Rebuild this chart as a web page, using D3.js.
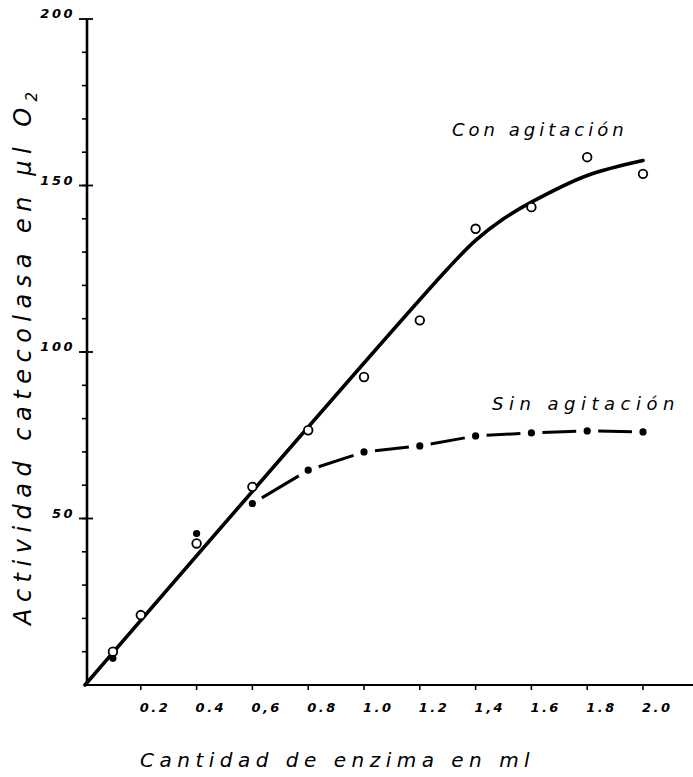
<!DOCTYPE html>
<meta charset="utf-8">
<style>
  body { margin: 0; background: #fff; }
  svg { display: block; }
  .hand { font-family: "DejaVu Sans", sans-serif; font-style: italic; fill: #000; }
  .tick-lbl { font-family: "DejaVu Sans", sans-serif; font-style: italic; font-weight: bold; font-size: 13px; letter-spacing: 2.5px; fill: #000; }
</style>
<body>
<script src="https://d3js.org/d3.v7.min.js"></script>
<script>
// x tick values and their labels (as written on the original)
var xTicks = [0.2, 0.4, 0.6, 0.8, 1.0, 1.2, 1.4, 1.6, 1.8, 2.0];
var xTickLabels = ["0.2", "0.4", "0,6", "0.8", "1.0", "1.2", "1,4", "1.6", "1.8", "2.0"];
var yLabelTicks = [50, 100, 150, 200];

// Con agitacion: measured points (open circles)
var conX = [0.1, 0.2, 0.4, 0.6, 0.8, 1.0, 1.2, 1.4, 1.6, 1.8, 2.0];
var conY = [10, 21, 42.5, 59.5, 76.5, 92.5, 109.5, 137, 143.5, 158.5, 153.5];
// Con agitacion: drawn curve
var conFitX = [0, 1.3, 1.4, 1.5, 1.6, 1.8, 2.0];
var conFitY = [0, 125, 133.5, 140, 145, 153, 157.5];

// Sin agitacion: measured points (filled dots)
var sinX = [0.1, 0.4, 0.6, 0.8, 1.0, 1.2, 1.4, 1.6, 1.8, 2.0];
var sinY = [8, 45.5, 54.5, 64.5, 70, 71.8, 74.8, 75.7, 76.3, 76];

var width = 693, height = 777;

var x = d3.scaleLinear().domain([0, 2.0]).range([85, 643]);
var y = d3.scaleLinear().domain([0, 200]).range([685, 19]);

var svg = d3.select("body").append("svg")
    .attr("width", width)
    .attr("height", height);

// ---- axes
var x0 = x(0), y0 = y(0);

svg.append("line")
    .attr("x1", x0).attr("x2", width)
    .attr("y1", y0).attr("y2", y0)
    .attr("stroke", "#000").attr("stroke-width", 2.2);

svg.append("line")
    .attr("x1", x0 + 2).attr("x2", x0 + 2)
    .attr("y1", y(200)).attr("y2", y0 + 1)
    .attr("stroke", "#000").attr("stroke-width", 2.6);

// x ticks
svg.append("g").selectAll("line")
  .data(xTicks)
  .enter().append("line")
    .attr("x1", d => x(d)).attr("x2", d => x(d))
    .attr("y1", y0).attr("y2", y0 + 5)
    .attr("stroke", "#000").attr("stroke-width", 1.6);

svg.append("g").selectAll("text")
  .data(xTicks)
  .enter().append("text")
    .attr("class", "tick-lbl")
    .attr("x", d => x(d) - 1)
    .attr("y", y0 + 27)
    .text((d, i) => xTickLabels[i]);

// y minor ticks every 10
svg.append("g").selectAll("line")
  .data(d3.range(10, 200, 10))
  .enter().append("line")
    .attr("x1", x0 - 3).attr("x2", x0 + 2)
    .attr("y1", d => y(d)).attr("y2", d => y(d))
    .attr("stroke", "#000").attr("stroke-width", 1.6);

// y major ticks
svg.append("g").selectAll("line")
  .data(yLabelTicks)
  .enter().append("line")
    .attr("x1", x0 - 6).attr("x2", x0 + 8)
    .attr("y1", d => y(d)).attr("y2", d => y(d))
    .attr("stroke", "#000").attr("stroke-width", 1.8);

svg.append("g").selectAll("text")
  .data(yLabelTicks)
  .enter().append("text")
    .attr("class", "tick-lbl")
    .attr("text-anchor", "end")
    .attr("x", x0 - 10)
    .attr("y", d => y(d) - 1)
    .text(d => d);

// ---- curves
var line = d3.line()
    .x(d => x(d[0]))
    .y(d => y(d[1]))
    .curve(d3.curveCatmullRom.alpha(0.5));

svg.append("path")
    .attr("d", line(d3.zip(conFitX, conFitY)))
    .attr("fill", "none")
    .attr("stroke", "#000")
    .attr("stroke-width", 3.6)
    .attr("stroke-linecap", "round");

// sin agitacion: dashes between the dots from 0.6 on
var sinPts = d3.zip(sinX, sinY).filter(d => d[0] >= 0.6).map(d => [x(d[0]), y(d[1])]);
var segs = d3.pairs(sinPts).map(([p, q]) => {
  var dx = q[0] - p[0], dy = q[1] - p[1], len = Math.hypot(dx, dy);
  var ux = dx / len, uy = dy / len, gap = 11;
  return [p[0] + ux * gap, p[1] + uy * gap, q[0] - ux * gap, q[1] - uy * gap];
});
svg.append("g").selectAll("line")
  .data(segs)
  .enter().append("line")
    .attr("x1", d => d[0]).attr("y1", d => d[1])
    .attr("x2", d => d[2]).attr("y2", d => d[3])
    .attr("stroke", "#000")
    .attr("stroke-width", 3);

// ---- points
svg.append("g").selectAll("circle")
  .data(d3.zip(sinX, sinY))
  .enter().append("circle")
    .attr("cx", d => x(d[0]))
    .attr("cy", d => y(d[1]))
    .attr("r", 3.6)
    .attr("fill", "#000");

svg.append("g").selectAll("circle")
  .data(d3.zip(conX, conY))
  .enter().append("circle")
    .attr("cx", d => x(d[0]))
    .attr("cy", d => y(d[1]))
    .attr("r", 4.3)
    .attr("fill", "#fff")
    .attr("stroke", "#000")
    .attr("stroke-width", 1.8);

// ---- labels
svg.append("text")
    .attr("class", "hand")
    .attr("x", 452).attr("y", 136)
    .style("font-size", "18px")
    .style("letter-spacing", "4px")
    .text("Con agitación");

svg.append("text")
    .attr("class", "hand")
    .attr("x", 492).attr("y", 410)
    .style("font-size", "18px")
    .style("letter-spacing", "5.5px")
    .text("Sin agitación");

svg.append("text")
    .attr("class", "hand")
    .attr("x", 140).attr("y", 767)
    .style("font-size", "20px")
    .style("letter-spacing", "5.5px")
    .text("Cantidad de enzima en ml");

var yt = svg.append("text")
    .attr("class", "hand")
    .attr("transform", "translate(31,625) rotate(-90)")
    .style("font-size", "24px")
    .style("letter-spacing", "6.5px");
yt.append("tspan").text("Actividad catecolasa en µl O");
yt.append("tspan").attr("dy", 6).style("font-size", "15px").text("2");
</script>
</body>
</html>
